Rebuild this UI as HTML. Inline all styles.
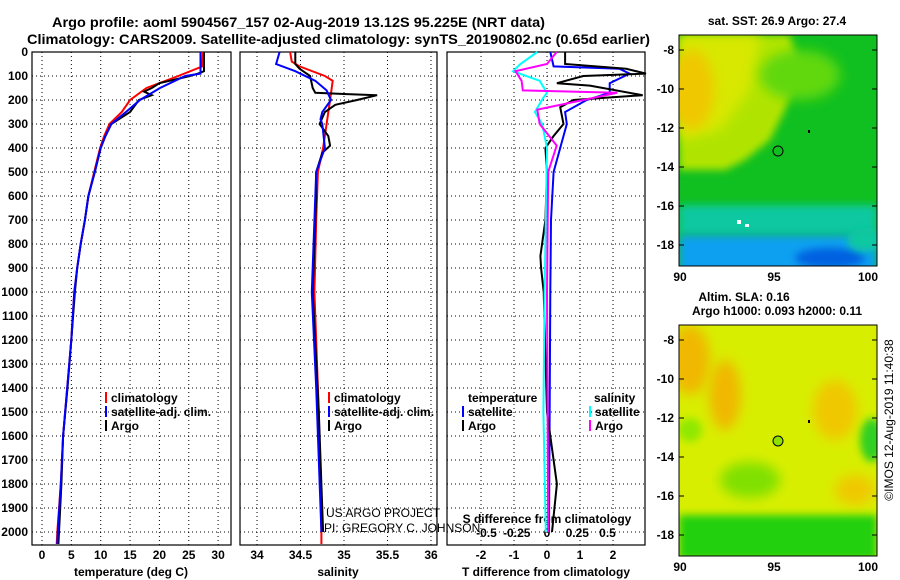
<!DOCTYPE html>
<html><head><meta charset="utf-8"><style>
body{margin:0;background:#fff;}
svg{display:block;font-family:"Liberation Sans",sans-serif;}
.b{font-weight:bold;font-size:12px;}
.n{font-size:12px;}
</style></head><body>
<svg id="fig" width="900" height="580" viewBox="0 0 900 580">
<defs>
<filter id="bl" x="-50%" y="-50%" width="200%" height="200%"><feGaussianBlur stdDeviation="6"/></filter>
<filter id="bl2" x="-50%" y="-50%" width="200%" height="200%"><feGaussianBlur stdDeviation="4"/></filter>
<clipPath id="c1"><rect x="679" y="35" width="198" height="231"/></clipPath>
<clipPath id="c2"><rect x="679" y="325" width="198" height="231"/></clipPath>
</defs>
<text x="52" y="27" class="b" style="font-size:14px" textLength="493" lengthAdjust="spacingAndGlyphs">Argo profile: aoml 5904567_157 02-Aug-2019 13.12S 95.225E (NRT data)</text>
<text x="27" y="44" class="b" style="font-size:14px" textLength="623" lengthAdjust="spacingAndGlyphs">Climatology: CARS2009. Satellite-adjusted climatology: synTS_20190802.nc (0.65d earlier)</text>

<g>
<g clip-path="url(#c1)">
<rect x="679" y="35" width="198" height="231" fill="#10c020"/>
<polygon points="679,35 790,35 800,70 785,110 770,140 745,160 725,170 679,170" fill="#b0e400" filter="url(#bl2)"/>
<polygon points="679,35 760,35 750,90 720,130 679,140" fill="#d8e800" filter="url(#bl)"/>
<ellipse cx="800" cy="75" rx="40" ry="25" fill="#60d810" filter="url(#bl)"/>
<ellipse cx="692" cy="90" rx="22" ry="40" fill="#f0c800" filter="url(#bl)"/>
<rect x="679" y="205" width="198" height="30" fill="#10c8a0" filter="url(#bl2)"/>
<rect x="679" y="235" width="198" height="40" fill="#10a0f0" filter="url(#bl2)"/>
<ellipse cx="830" cy="258" rx="35" ry="10" fill="#0060e0" filter="url(#bl2)"/>
<ellipse cx="865" cy="240" rx="18" ry="12" fill="#10c8a0" filter="url(#bl2)"/>
<rect x="737" y="220" width="4" height="4" fill="#fff"/><rect x="745" y="224" width="4" height="3" fill="#fff"/>
<circle cx="778" cy="151" r="5" fill="none" stroke="#000"/>
<rect x="808" y="130" width="2" height="3" fill="#000"/>
</g>
<rect x="679" y="35" width="198" height="231" fill="none" stroke="#000"/>
</g>
<g>
<g clip-path="url(#c2)">
<rect x="679" y="325" width="198" height="231" fill="#d8ee00"/>
<ellipse cx="690" cy="360" rx="20" ry="35" fill="#f0b800" filter="url(#bl)"/>
<ellipse cx="725" cy="395" rx="16" ry="35" fill="#f0b800" filter="url(#bl)"/>
<ellipse cx="835" cy="410" rx="22" ry="30" fill="#f0c800" filter="url(#bl)"/>
<ellipse cx="855" cy="490" rx="20" ry="15" fill="#f0c800" filter="url(#bl)"/>
<ellipse cx="690" cy="430" rx="12" ry="12" fill="#90e800" filter="url(#bl2)"/>
<ellipse cx="750" cy="480" rx="30" ry="18" fill="#80e000" filter="url(#bl)"/>
<ellipse cx="872" cy="440" rx="12" ry="22" fill="#30d020" filter="url(#bl2)"/>
<rect x="679" y="515" width="198" height="45" fill="#20d010" filter="url(#bl2)"/>
<circle cx="778" cy="441" r="5" fill="#90e000" stroke="#000"/>
<rect x="808" y="420" width="2" height="3" fill="#000"/>
</g>
<rect x="679" y="325" width="198" height="231" fill="none" stroke="#000"/>
</g>
<text x="777" y="25" text-anchor="middle" class="b">sat. SST: 26.9 Argo: 27.4</text>
<text x="744" y="301" text-anchor="middle" class="b">Altim. SLA: 0.16</text>
<text x="777" y="315" text-anchor="middle" class="b">Argo h1000: 0.093 h2000: 0.11</text>
<text transform="translate(893,420) rotate(-90)" text-anchor="middle" style="font-size:12px">©IMOS 12-Aug-2019 11:40:38</text>
<g id="plots"></g>
</svg>
<script>
const NS="http://www.w3.org/2000/svg";
const root=document.getElementById('plots');
const depthTicks=[0,100,200,300,400,500,600,700,800,900,1000,1100,1200,1300,1400,1500,1600,1700,1800,1900,2000];
const tempTicks=[0,5,10,15,20,25,30];
const salTicks=[34,34.5,35,35.5,36];
const tdiffTicks=[-2,-1,0,1,2];
const sdiffTicks=[-0.5,-0.25,0,0.25,0.5];
const mapLatTicks=[-8,-10,-12,-14,-16,-18];
const mapLonTicks=[90,95,100];
// temperature profiles (depth m, value deg C)
const tArgoDepth=[0,80,90,100,130,150,165,180,200,250,300,350,400,500,600,700,800,900,1000,1200,1400,1600,1800,2000,2050];
const tArgo=[27.6,27.6,26.6,25.2,20,18.7,17.4,18.7,16.5,15.0,11.8,10.8,10.0,9.0,7.9,7.3,6.6,6.0,5.6,5.0,4.35,3.6,3.3,2.9,2.8];
const tClimDepth=[0,60,100,150,200,250,300,350,400,500,600,700,800,900,1000,1200,1400,1600,1800,2000,2050];
const tClim=[27.4,27.3,23.2,17.8,15.0,13.6,11.5,10.6,9.9,8.9,7.9,7.3,6.6,6.0,5.5,5.0,4.3,3.6,3.2,2.6,2.5];
const tSatDepth=[0,90,100,150,200,250,300,350,400,500,600,700,800,900,1000,1200,1400,1600,1800,2000,2050];
const tSat=[27,27,24.4,20.1,16.7,14.3,11.8,10.8,10.0,9.0,7.9,7.3,6.6,6.0,5.5,5.0,4.3,3.6,3.2,2.7,2.6];
// salinity profiles
const sArgoDepth=[0,50,70,100,150,170,175,180,200,220,250,300,350,390,420,500,600,1000,1500,2000];
const sArgo=[34.44,34.44,34.49,34.61,34.64,34.67,35.0,35.38,35.15,34.9,34.78,34.72,34.82,34.84,34.75,34.68,34.68,34.64,34.71,34.76];
const sClimDepth=[0,40,60,100,120,200,300,400,500,700,1000,1500,2000,2050];
const sClim=[34.38,34.4,34.49,34.78,34.87,34.84,34.8,34.76,34.7,34.68,34.66,34.71,34.74,34.74];
const sSatDepth=[0,50,80,120,160,200,250,280,300,400,500,1000,1400,2000];
const sSat=[34.26,34.22,34.44,34.67,34.8,34.85,34.75,34.73,34.75,34.78,34.68,34.63,34.68,34.74];
// differences
const dTArgoDepth=[0,50,70,90,100,130,140,180,200,230,300,350,400,500,700,850,900,1000,1500,1800,2000];
const dTArgo=[0.55,0.55,2.4,3.0,1.1,0.3,1.3,2.9,0.8,0.4,0.5,0.2,-0.05,0,-0.05,-0.2,-0.18,-0.1,0,0.3,0.15];
const dTSatDepth=[0,60,70,90,130,170,200,250,300,400,500,700,1000,2000];
const dTSat=[0.1,0.2,2.2,2.5,1.9,1.9,1.2,0.55,0.6,0.4,0.2,0.12,0.1,0.06];
const dSArgoDepth=[0,50,80,120,160,170,200,240,300,390,500,1000,2000];
const dSArgo=[0.08,0,-0.26,-0.21,-0.2,0.58,0.3,-0.08,-0.06,0.08,0.01,0,0.01];
const dSSatDepth=[0,50,80,120,170,190,250,300,400,1000,1500,2000];
const dSSat=[-0.08,-0.22,-0.28,-0.06,0,-0.03,-0.1,-0.04,0,-0.02,-0.03,-0.01];

const Y=d=>52+d*0.24;
const xT=v=>42+v*5.87, xS=v=>257+(v-34)*87, xDT=v=>547+v*33, xDS=v=>547+v*121;
function el(tag,attrs,parent){const e=document.createElementNS(NS,tag);for(const k in attrs)e.setAttribute(k,attrs[k]);(parent||root).appendChild(e);return e;}
function txt(x,y,s,anchor,cls,parent){const t=el('text',{x:x,y:y,'text-anchor':anchor||'middle','class':cls||'b'},parent);t.textContent=s;return t;}
function panel(name,x0,x1,ticks,xf,labels){
  const g=el('g',{});
  
  
  ticks.forEach(t=>{el('line',{x1:xf(t),x2:xf(t),y1:52,y2:545,stroke:'#000','stroke-dasharray':'1 3'},g);
    if(labels){txt(xf(t),559,String(t),'middle','b',g);}});
  depthTicks.forEach(d=>{el('line',{x1:x0,x2:x1,y1:Y(d),y2:Y(d),stroke:'#000','stroke-dasharray':'1 3'},g);});
  el('rect',{x:x0,y:52,width:x1-x0,height:493,fill:'none',stroke:'#000','stroke-width':1.2},g);
  return g;
}
function line(g,name,ds,vs,xf,color){
  const p=el('polyline',{points:ds.map((d,i)=>xf(vs[i]).toFixed(1)+','+Y(d).toFixed(1)).join(' '),fill:'none',stroke:color,'stroke-width':2},g);
  
  
}
const g1=panel('temperature-panel',32,231,tempTicks,xT,true);
depthTicks.forEach(d=>{txt(28,Y(d)+4,String(d),'end');});
line(g1,'temperature-climatology-line',tClimDepth,tClim,xT,'#f00');
line(g1,'temperature-argo-line',tArgoDepth,tArgo,xT,'#000');
line(g1,'temperature-satellite-line',tSatDepth,tSat,xT,'#00f');
txt(131,576,'temperature (deg C)','middle','b',g1);
const g2=panel('salinity-panel',240,437,salTicks,xS,true);
line(g2,'salinity-climatology-line',sClimDepth,sClim,xS,'#f00');
line(g2,'salinity-argo-line',sArgoDepth,sArgo,xS,'#000');
line(g2,'salinity-satellite-line',sSatDepth,sSat,xS,'#00f');
txt(338,576,'salinity','middle','b',g2);
const g3=panel('difference-panel',447,645,tdiffTicks,xDT,true);
sdiffTicks.forEach(t=>{txt(xDS(t),537,String(t),'middle','b',g3);});
txt(547,523,'S difference from climatology','middle','b',g3);
line(g3,'tdiff-satellite-line',dTSatDepth,dTSat,xDT,'#00f');
line(g3,'tdiff-argo-line',dTArgoDepth,dTArgo,xDT,'#000');
line(g3,'sdiff-satellite-line',dSSatDepth,dSSat,xDS,'#0ff');
line(g3,'sdiff-argo-line',dSArgoDepth,dSArgo,xDS,'#f0f');
txt(546,576,'T difference from climatology','middle','b',g3);
function legend(x,y,color,label,name){const g=el('g',{});
  
  
  el('rect',{x:x,y:y-10,width:2,height:11,fill:color},g);txt(x+6,y,label,'start','b',g);}
legend(105,402,'#f00','climatology','legend-climatology');
legend(105,416,'#00f','satellite-adj. clim.','legend-satellite-adj');
legend(105,430,'#000','Argo','legend-argo');
legend(328,402,'#f00','climatology','legend-sal-climatology');
legend(328,416,'#00f','satellite-adj. clim.','legend-sal-satellite-adj');
legend(328,430,'#000','Argo','legend-sal-argo');
txt(468,402,'temperature','start');
legend(462,416,'#00f','satellite','legend-tdiff-satellite');
legend(462,430,'#000','Argo','legend-tdiff-argo');
txt(594,402,'salinity','start');
legend(589,416,'#0ff','satellite','legend-sdiff-satellite');
legend(589,430,'#f0f','Argo','legend-sdiff-argo');
txt(326,517,'US ARGO PROJECT','start','n');
txt(324,532,'PI: GREGORY C. JOHNSON','start','n');
[[50,281],[340,571]].forEach(([y0,yl])=>{
  mapLatTicks.forEach(l=>{const y=y0+(-8-l)*19.5;el('line',{x1:679,x2:684,y1:y,y2:y,stroke:'#000'});el('line',{x1:872,x2:877,y1:y,y2:y,stroke:'#000'});txt(674,y+4,String(l),'end');});
  mapLonTicks.forEach(l=>{const x=680+(l-90)*18.8;txt(x,yl,String(l),'middle');});
});
</script>
</body></html>
